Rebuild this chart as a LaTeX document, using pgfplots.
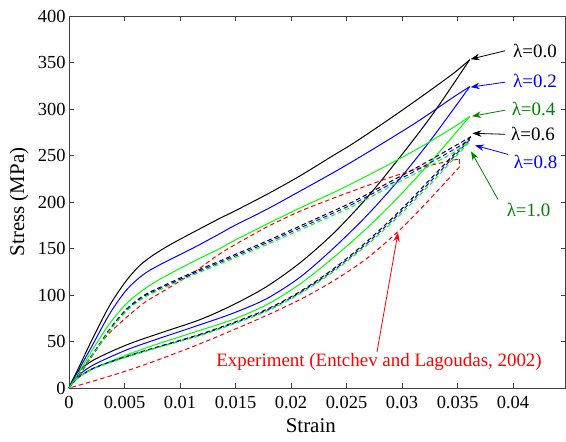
\documentclass[border=0pt]{standalone}
\usepackage{fontspec}
\setmainfont{Liberation Serif}
\usepackage{pgfplots}
\pgfplotsset{compat=1.18}
\usetikzlibrary{arrows.meta}
\definecolor{dg}{rgb}{0,0.5,0}
\definecolor{lg}{rgb}{0,1,0}
\begin{document}
\begin{tikzpicture}
\begin{axis}[
 scale only axis, width=496.5bp, height=372bp,
 xmin=0, xmax=0.04473, ymin=0, ymax=400,
 xtick={0,0.005,0.01,0.015,0.02,0.025,0.03,0.035,0.04},
 xticklabels={0,0.005,0.01,0.015,0.02,0.025,0.03,0.035,0.04},
 scaled x ticks=false,
 ytick={0,50,100,150,200,250,300,350,400},
 tick align=inside, tick pos=both, major tick length=5bp,
 axis line style={black!75, line width=0.6bp},
 every tick/.style={black!75, line width=0.6bp},
 /pgf/number format/assume math mode=true,
 ticklabel style={font=\fontsize{18.5}{20}\selectfont},
 xticklabel style={yshift=-5bp},
 label style={font=\fontsize{21}{24}\selectfont},
 xlabel={Strain}, ylabel={Stress (MPa)},
 xlabel style={at={(axis description cs:0.487,-0.102)},anchor=center},
 ylabel style={at={(axis description cs:-0.1007,0.5)},anchor=center},
 clip=false,
 every axis plot/.append style={line width=1bp, smooth, tension=0.5},
]
% lambda = 0.0 (black solid)
\addplot[black] coordinates {(0,0) (0.001,25) (0.0022,55) (0.0037,89.5) (0.0052,116) (0.0064,132) (0.0076,143) (0.0091,154) (0.0112,167.5) (0.0136,182.5) (0.0148,189.5) (0.0178,208) (0.0208,228) (0.0238,250) (0.0256,263) (0.0286,287) (0.0316,312) (0.0346,338) (0.0361,353)};
\addplot[black] coordinates {(0.0361,353) (0.0328,295) (0.0298,248) (0.0268,204) (0.0238,166) (0.0208,134.5) (0.0178,109) (0.0148,89.5) (0.0118,73.5) (0.0082,59) (0.0052,46.4) (0.0022,30) (0.0007,16) (0,0)};
% lambda = 0.2 (blue solid)
\addplot[blue] coordinates {(0,0) (0.001,22) (0.0022,48) (0.0037,80.5) (0.0052,105.7) (0.0067,122) (0.0082,132.6) (0.0112,150.6) (0.0136,166) (0.0148,174) (0.0178,192) (0.0208,211.6) (0.0238,231.5) (0.0256,244) (0.0286,265.6) (0.0316,288) (0.0346,312.5) (0.0361,324)};
\addplot[blue] coordinates {(0.0361,324) (0.0328,270) (0.0298,225) (0.0268,185) (0.0238,150) (0.0208,119) (0.0178,96) (0.0148,80.5) (0.0118,68) (0.0082,53.6) (0.0052,41) (0.0022,24.8) (0.0007,12) (0,0)};
% lambda = 0.4 (green solid)
\addplot[lg] coordinates {(0,0) (0.001,19) (0.0022,42.8) (0.0037,69.8) (0.0052,91) (0.0067,105.7) (0.0082,117) (0.0112,136) (0.0136,150) (0.0148,158) (0.0178,176) (0.0208,193.5) (0.0238,210) (0.0256,220.5) (0.0286,239) (0.0316,258.5) (0.0346,280) (0.0361,292)};
\addplot[lg] coordinates {(0.0361,292) (0.0328,246) (0.0298,207) (0.0268,171.5) (0.0238,140) (0.0208,111.7) (0.0178,89.5) (0.0148,73.8) (0.0118,62) (0.0082,48.2) (0.0052,35.6) (0.0022,21) (0.0007,10) (0,0)};
% experiment (red dashed)
\addplot[red, dash pattern=on 4.5bp off 3bp] coordinates {(0,0) (0.001,15) (0.0031,51.7) (0.0046,69.8) (0.0067,91) (0.0082,102) (0.0112,124) (0.0133,142) (0.0148,153) (0.0178,173) (0.0208,190) (0.0238,204) (0.0256,212) (0.0286,225) (0.0316,236.5) (0.0346,245) (0.0352,246)};
\addplot[red, dash pattern=on 4.5bp off 3bp, sharp plot] coordinates {(0.0352,246) (0.0352,238)};
\addplot[red, dash pattern=on 4.5bp off 3bp] coordinates {(0.0352,238) (0.0325,203) (0.0298,170) (0.0268,139) (0.0238,115) (0.0208,95) (0.0178,78) (0.0148,62.5) (0.0118,47.5) (0.0082,31) (0.0052,18.5) (0.0022,7.5) (0,0)};
% lambda = 0.6 (black dashed)
\addplot[black, dash pattern=on 4.5bp off 3bp] coordinates {(0,0) (0.001,17.2) (0.0022,37.4) (0.0037,63.8) (0.0052,85) (0.0067,99.2) (0.0082,108.3) (0.0112,124.5) (0.0136,136.6) (0.0148,142.7) (0.0178,157.9) (0.0208,174.1) (0.0238,190.3) (0.0256,200.4) (0.0286,219.6) (0.0316,238.8) (0.0346,259.1) (0.0362,270.2)};
\addplot[black, dash pattern=on 4.5bp off 3bp] coordinates {(0.0362,270.2) (0.0328,227.7) (0.0298,190.5) (0.0268,157.1) (0.0238,127.9) (0.0208,103.6) (0.0178,84.5) (0.0148,70.3) (0.0118,57.7) (0.0082,45) (0.0052,34.1) (0.0022,21.3) (0.0007,10.1) (0,0)};
% lambda = 0.8 (blue dashed)
\addplot[blue, dash pattern=on 4.5bp off 3bp] coordinates {(0,0) (0.001,17) (0.0022,37) (0.0037,63) (0.0052,84) (0.0067,98) (0.0082,107) (0.0112,123) (0.0136,135) (0.0148,141) (0.0178,156) (0.0208,172) (0.0238,188) (0.0256,198) (0.0286,217) (0.0316,236) (0.0346,256) (0.0361,267)};
\addplot[blue, dash pattern=on 4.5bp off 3bp] coordinates {(0.0361,267) (0.0328,225) (0.0298,188.2) (0.0268,155.2) (0.0238,126.4) (0.0208,102.4) (0.0178,83.5) (0.0148,69.5) (0.0118,57) (0.0082,44.5) (0.0052,33.7) (0.0022,21) (0.0007,10) (0,0)};
% lambda = 1.0 (green dashed)
\addplot[lg, dash pattern=on 4.5bp off 3bp] coordinates {(0,0) (0.001,16.8) (0.0022,36.6) (0.0037,62.2) (0.0052,83) (0.0067,96.8) (0.0082,105.7) (0.0112,121.5) (0.0136,133.4) (0.0148,139.3) (0.0178,154.1) (0.0208,169.9) (0.0238,185.7) (0.0256,195.6) (0.0286,214.4) (0.0316,233.2) (0.0346,252.9) (0.036,263.8)};
\addplot[lg, dash pattern=on 4.5bp off 3bp] coordinates {(0.036,263.8) (0.0328,222.3) (0.0298,185.9) (0.0268,153.3) (0.0238,124.9) (0.0208,101.2) (0.0178,82.5) (0.0148,68.7) (0.0118,56.3) (0.0082,44) (0.0052,33.3) (0.0022,20.7) (0.0007,9.9) (0,0)};
% annotations
\tikzset{arr/.style={-{Stealth[length=9bp,width=6.5bp]}, line width=0.8bp}, lab/.style={font=\fontsize{19}{22}\selectfont}}
\draw[arr, black] (axis cs:0.03928,362.6) -- (axis cs:0.03618,353.6);
\node[lab, black] at (axis cs:0.04198,362.3) {λ=0.0};
\draw[arr, blue] (axis cs:0.03928,328.8) -- (axis cs:0.03618,323.5);
\node[lab, blue] at (axis cs:0.04198,330) {λ=0.2};
\draw[arr, dg] (axis cs:0.03928,298.7) -- (axis cs:0.03631,292.2);
\node[lab, dg] at (axis cs:0.04185,299.7) {λ=0.4};
\draw[arr, black] (axis cs:0.03928,272.8) -- (axis cs:0.03635,273.9);
\node[lab, black] at (axis cs:0.0418,272.8) {λ=0.6};
\draw[arr, blue] (axis cs:0.03955,251.2) -- (axis cs:0.03658,260.9);
\node[lab, blue] at (axis cs:0.04203,242.6) {λ=0.8};
\draw[arr, dg] (axis cs:0.03865,202.7) -- (axis cs:0.03622,254.4);
\node[lab, dg] at (axis cs:0.0414,191.9) {λ=1.0};
\draw[arr, red] (axis cs:0.02775,38.8) -- (axis cs:0.02964,167.1);
\node[lab, red] at (axis cs:0.02793,28) {Experiment (Entchev and Lagoudas, 2002)};
\end{axis}
\pgfresetboundingbox
\path[use as bounding box] (-69bp,-54bp) rectangle (497bp,388bp);
\end{tikzpicture}
\end{document}
